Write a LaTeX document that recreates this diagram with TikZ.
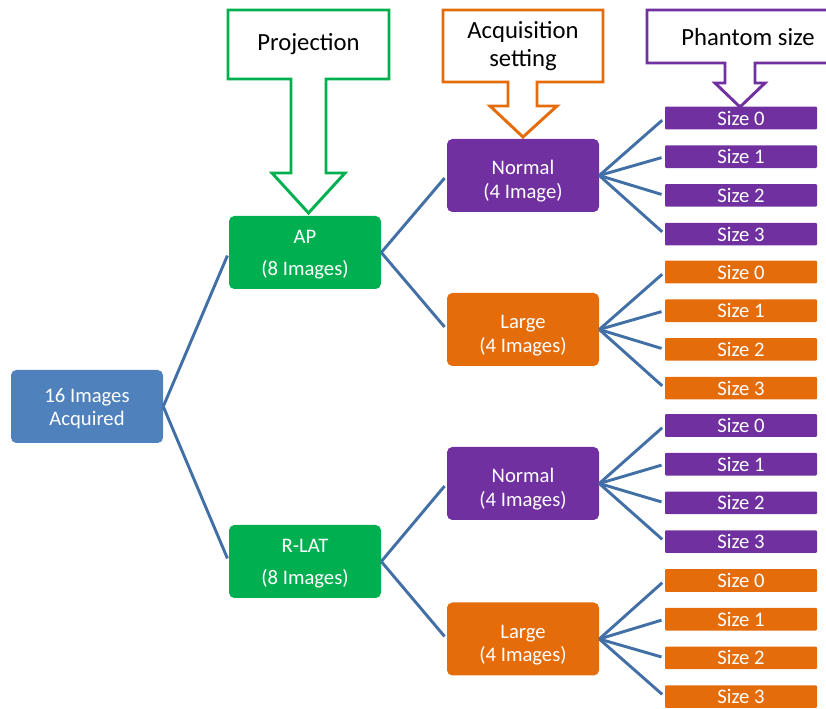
\documentclass[tikz,border=0pt]{standalone}
\usepackage{fontspec}
\setmainfont{Carlito}
\usepackage{tikz}
\usetikzlibrary{positioning}
\definecolor{rootblue}{RGB}{79,129,189}
\definecolor{projgreen}{RGB}{0,176,80}
\definecolor{acqorange}{RGB}{228,108,10}
\definecolor{phpurple}{RGB}{112,48,160}
\definecolor{linkblue}{RGB}{66,112,166}
\tikzstyle{link} = [line width=2.2pt, color=linkblue, shorten >=2.5pt]
\tikzstyle{box} = [rectangle, rounded corners=4pt, minimum width=114pt, minimum height=54.75pt, text centered, align=center, text=white, font=\fontsize{15.5}{17.5}\selectfont]
\tikzstyle{sizebox} = [rectangle, rounded corners=0.8pt, minimum width=114pt, minimum height=17pt, inner sep=0pt, text=white, font=\fontsize{15.5}{17}\selectfont]
\tikzstyle{header} = [fill=white, line width=2.2pt, line join=miter]
\tikzstyle{headtext} = [align=center, font=\fontsize{18.5}{20.5}\selectfont]
\newcommand{\lowr}[1]{\rule{0pt}{#1}}

\begin{document}
\begin{tikzpicture}[x=0.75pt, y=-0.75pt]
\path[use as bounding box, clip] (0,0) rectangle (826,709);

% Header arrows
\draw[header, draw=projgreen] (228,10) -- (389,10) -- (389,79) -- (326,79) -- (326,173) -- (345,173)
  -- (308.5,213) -- (272,173) -- (291,173) -- (291,79) -- (228,79) -- cycle;
\node (projlabel) [headtext] at (308.5,44) {Projection};
\draw[header, draw=acqorange] (443,10) -- (603,10) -- (603,82) -- (537,82) -- (537,106) -- (557,106)
  -- (523,137) -- (490,106) -- (508,106) -- (508,82) -- (443,82) -- cycle;
\node (acqlabel) [headtext] at (523,46) {Acquisition\\setting};
\draw[header, draw=phpurple] (647,10) -- (845,10) -- (845,63) -- (755,63) -- (755,83) -- (765,83)
  -- (740,107) -- (715,83) -- (725,83) -- (725,63) -- (647,63) -- cycle;
\node (phlabel) [headtext] at (748,37) {Phantom size};

% Root and projections
\node (root) [box, fill=rootblue] at (87,406.5) {\lowr{14pt}16 Images\\Acquired};
\node (ap) [box, fill=projgreen] at (305,252.5) {\lowr{13pt}AP\\[6pt](8 Images)};
\node (rlat) [box, fill=projgreen] at (305,561.5) {\lowr{13pt}R-LAT\\[6pt](8 Images)};
\draw[link] (root.east) -- (ap.west);
\draw[link] (root.east) -- (rlat.west);

% Acquisition settings
\node (normalap) [box, fill=phpurple] at (523,175.5) {\lowr{19pt}Normal\\(4 Image)};
\node (largeap) [box, fill=acqorange] at (523,329.5) {\lowr{19pt}Large\\(4 Images)};
\node (normalrlat) [box, fill=phpurple] at (523,483.5) {\lowr{19pt}Normal\\(4 Images)};
\node (largerlat) [box, fill=acqorange] at (523,639) {\lowr{19pt}Large\\(4 Images)};
\draw[link] (ap.east) -- (normalap.west);
\draw[link] (ap.east) -- (largeap.west);
\draw[link] (rlat.east) -- (normalrlat.west);
\draw[link] (rlat.east) -- (largerlat.west);

% Phantom sizes
\foreach \grp/\col/\ya in {normalap/phpurple/118, largeap/acqorange/272, normalrlat/phpurple/425.5, largerlat/acqorange/580.5} {
  \foreach \k in {0,...,3} {
    \node (\grp\k) [sizebox, fill=\col] at (741,{\ya+\k*38.7}) {Size \k};
    \draw[link] (\grp.east) -- (\grp\k.west);
  }
}
\end{tikzpicture}
\end{document}
